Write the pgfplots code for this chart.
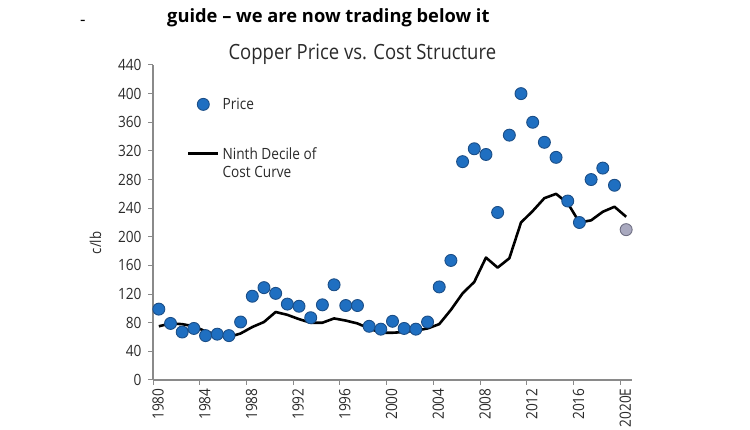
\documentclass[border=0pt]{standalone}
\usepackage{pgfplots}
\pgfplotsset{compat=1.18}
\usepackage{fontspec}
\setmainfont[FakeStretch=0.88]{Open Sans}
\newfontfamily\headfont{Open Sans}

\definecolor{priceblue}{HTML}{1F6FC1}
\definecolor{priceedge}{HTML}{1B4E87}
\definecolor{estgray}{HTML}{A9A9BF}
\definecolor{estedge}{HTML}{6E6E82}
\definecolor{axisgray}{HTML}{8A8A8A}
\definecolor{textdark}{HTML}{2A2A2A}

% Annual copper price (c/lb); points sit mid-year
\pgfplotstableread{
year   price
1980.5  99
1981.5  79
1982.5  67
1983.5  72
1984.5  62
1985.5  64
1986.5  62
1987.5  81
1988.5 117
1989.5 129
1990.5 121
1991.5 106
1992.5 103
1993.5  87
1994.5 105
1995.5 133
1996.5 104
1997.5 104
1998.5  75
1999.5  71
2000.5  82
2001.5  72
2002.5  71
2003.5  81
2004.5 130
2005.5 167
2006.5 305
2007.5 323
2008.5 315
2009.5 234
2010.5 342
2011.5 400
2012.5 360
2013.5 332
2014.5 311
2015.5 250
2016.5 220
2017.5 280
2018.5 296
2019.5 272
}\pricetable

% 2020 estimate
\pgfplotstableread{
year   price
2020.5 210
}\esttable

% Ninth decile of the cost curve (c/lb)
\pgfplotstableread{
year   cost
1980.5  75
1981.5  79
1982.5  78
1983.5  75
1984.5  68
1985.5  63
1986.5  60
1987.5  65
1988.5  74
1989.5  81
1990.5  95
1991.5  91
1992.5  85
1993.5  80
1994.5  80
1995.5  86
1996.5  83
1997.5  79
1998.5  72
1999.5  66
2000.5  66
2001.5  67
2002.5  69
2003.5  72
2004.5  78
2005.5  98
2006.5 121
2007.5 137
2008.5 171
2009.5 157
2010.5 170
2011.5 220
2012.5 236
2013.5 254
2014.5 260
2015.5 247
2016.5 220
2017.5 223
2018.5 235
2019.5 242
2020.5 228
}\costtable

\begin{document}
\begin{tikzpicture}[x=1pt,y=1pt]
\useasboundingbox (0,0) rectangle (750,430);
\node[anchor=base west, inner sep=0pt, text=black,
      font=\headfont\fontsize{18.3}{21}\selectfont\bfseries] at (167,407)
      {guide – we are now trading below it};
\node[anchor=base west, inner sep=0pt, text=black,
      font=\headfont\fontsize{17}{19}\selectfont] at (80,404) {-};
\begin{axis}[
  at={(153pt,50pt)}, anchor=south west,
  scale only axis, width=479pt, height=315pt,
  xmin=1980, xmax=2021, ymin=0, ymax=440,
  axis x line*=bottom, axis y line*=left,
  axis line style={draw=axisgray, line width=1.2pt},
  x axis line style={-}, y axis line style={-},
  xtick={1980,1984,...,2020},
  xticklabels={1980,1984,1988,1992,1996,2000,2004,2008,2012,2016,2020E},
  ytick={0,40,...,440},
  tick align=outside,
  major tick length=5pt,
  tick style={draw=axisgray, line width=1pt},
  /pgf/number format/assume math mode=true,
  ticklabel style={font=\fontsize{15.5}{17}\selectfont, text=textdark},
  x tick label style={xshift=5pt, rotate=90, anchor=east},
  y tick label style={xshift=-3pt},
  title={Copper Price vs. Cost Structure},
  title style={at={(axis description cs:0.437,1)}, anchor=base, yshift=-1pt,
               font=\fontsize{21}{24}\selectfont, text=textdark},
  ylabel={c/lb},
  ylabel style={at={(axis description cs:-0.12,0.435)}, anchor=center,
                font=\fontsize{15}{17}\selectfont, text=textdark},
  clip=false,
  reverse legend,
  legend style={at={(axis description cs:0.071,0.900)}, anchor=north west,
                draw=none, fill=none, inner sep=0pt, outer sep=0pt,
                row sep=32pt, font=\fontsize{15.5}{18}\selectfont, text=textdark,
                nodes={align=left, inner sep=2pt},
                cells={anchor=base west},
                /tikz/every odd column/.style={column sep=1pt}},
]
\addplot[black, line width=2.6pt, line join=round,
  legend image code/.code={\draw[black, line width=2.6pt] (0pt,23.5pt) -- (30pt,23.5pt);}]
  table[x=year, y=cost] {\costtable};
\addplot[only marks, mark=*, mark size=6pt,
  mark options={fill=priceblue, draw=priceedge, line width=0.9pt},
  legend image code/.code={\draw[fill=priceblue, draw=priceedge, line width=0.9pt] (15pt,5.5pt) circle (6pt);}]
  table[x=year, y=price] {\pricetable};
\addplot[only marks, mark=*, mark size=6pt,
  mark options={fill=estgray, draw=estedge, line width=0.9pt}, forget plot]
  table[x=year, y=price] {\esttable};
\legend{Ninth Decile of\\Cost Curve, Price}
\end{axis}
\end{tikzpicture}
\end{document}
